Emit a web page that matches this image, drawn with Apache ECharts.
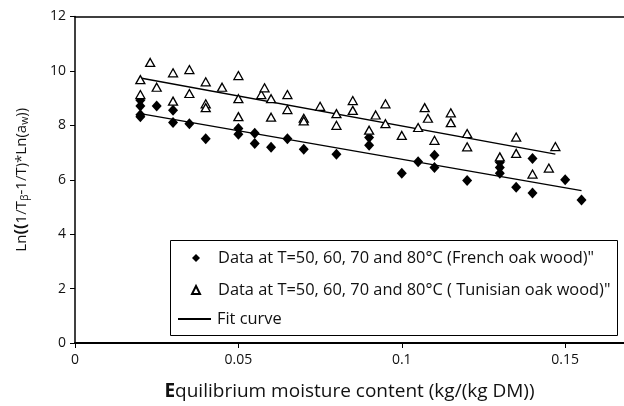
<!DOCTYPE html>
<html>
<head>
<meta charset="utf-8">
<script src="https://cdn.jsdelivr.net/npm/echarts@6/dist/echarts.min.js"></script>
<style>
  html, body { margin: 0; background: #fff; }
  #chart { width: 624px; height: 406px; }
</style>
</head>
<body>
<div id="chart"></div>
<script>
// French oak wood (filled diamonds)
const frenchX = [0.02, 0.02, 0.02, 0.02, 0.025, 0.03, 0.03, 0.035, 0.04, 0.05, 0.05, 0.055, 0.055, 0.06, 0.065, 0.07,
    0.08, 0.09, 0.09, 0.1, 0.105, 0.11, 0.11, 0.12, 0.13, 0.13, 0.13, 0.135, 0.14, 0.14, 0.15, 0.155];
const frenchY = [8.92, 8.71, 8.39, 8.32, 8.71, 8.55, 8.10, 8.06, 7.51, 7.88, 7.67, 7.71, 7.33, 7.19, 7.51, 7.12,
    6.94, 7.55, 7.27, 6.24, 6.66, 6.90, 6.45, 5.97, 6.64, 6.45, 6.24, 5.72, 6.78, 5.51, 6.00, 5.26];

// Tunisian oak wood (open triangles)
const tunisianX = [0.02, 0.02, 0.023, 0.025, 0.03, 0.03, 0.035, 0.035, 0.04, 0.04, 0.04, 0.045, 0.05, 0.05, 0.05,
    0.057, 0.058, 0.06, 0.06, 0.065, 0.065, 0.07, 0.07, 0.075, 0.08, 0.08, 0.085, 0.085, 0.09, 0.092, 0.095, 0.095,
    0.1, 0.105, 0.107, 0.108, 0.11, 0.115, 0.115, 0.12, 0.12, 0.13, 0.135, 0.135, 0.14, 0.145, 0.147];
const tunisianY = [9.68, 9.13, 10.31, 9.40, 9.93, 8.89, 10.05, 9.17, 9.60, 8.79, 8.65, 9.40, 9.83, 8.98, 8.32,
    9.13, 9.38, 8.98, 8.30, 9.13, 8.58, 8.26, 8.16, 8.70, 8.43, 8.00, 8.91, 8.55, 7.82, 8.38, 8.79, 8.06,
    7.63, 7.92, 8.65, 8.26, 7.45, 8.46, 8.10, 7.70, 7.21, 6.84, 7.57, 6.97, 6.21, 6.43, 7.22];

// fit curves (end points)
const fitFrenchX = [0.02, 0.155];
const fitFrenchY = [8.43, 5.60];
const fitTunisianX = [0.02, 0.147];
const fitTunisianY = [9.74, 6.94];

const xTicks = [0, 0.05, 0.1, 0.15];
const frenchName = 'Data at T=50, 60, 70 and 80°C (French oak wood)"';
const tunisianName = 'Data at T=50, 60, 70 and 80°C ( Tunisian oak wood)"';
const fitName = 'Fit curve';

const font = 'Open Sans';
const zip = (xs, ys) => xs.map((x, i) => [x, ys[i]]);
const legendText = { fontFamily: font, fontSize: 16.4, lineHeight: 18, color: '#111' };

const chart = echarts.init(document.getElementById('chart'));
chart.setOption({
    animation: false,
    grid: { left: 75, right: 0, top: 16.5, bottom: 61 },
    // legend frame
    graphic: [{
        type: 'rect',
        left: 170,
        top: 240,
        z: 3,
        shape: { width: 447, height: 95 },
        style: { fill: '#fff', stroke: '#000', lineWidth: 1 }
    }],
    legend: [
        {
            orient: 'vertical',
            left: 191,
            top: 249,
            padding: 0,
            itemWidth: 8,
            itemHeight: 8,
            itemGap: 14,
            selectedMode: false,
            textStyle: Object.assign({ padding: [0, 0, 0, 13] }, legendText),
            data: [frenchName, tunisianName]
        },
        {
            orient: 'vertical',
            left: 177,
            top: 310,
            padding: 0,
            itemWidth: 33,
            itemHeight: 8,
            selectedMode: false,
            textStyle: Object.assign({ padding: [0, 0, 0, 1] }, legendText),
            data: [{ name: fitName, itemStyle: { color: 'rgba(0,0,0,0)', borderWidth: 0 } }]
        }
    ],
    xAxis: [
        {
            type: 'value',
            min: 0,
            max: 0.168,
            interval: 0.05,
            axisLine: { onZero: false, lineStyle: { color: '#000', width: 2 } },
            axisTick: { customValues: xTicks, length: 5, lineStyle: { color: '#000' } },
            axisLabel: { customValues: xTicks, margin: 10, fontFamily: font, fontSize: 14, color: '#111' },
            splitLine: { show: false },
            name: '{b|E}{n|quilibrium moisture content (kg/(kg DM))}',
            nameLocation: 'middle',
            nameGap: 39,
            nameTextStyle: {
                rich: {
                    b: { fontFamily: font, fontSize: 19, fontWeight: 'bold', color: '#111' },
                    n: { fontFamily: font, fontSize: 19, color: '#111' }
                }
            }
        },
        {
            type: 'value',
            position: 'top',
            min: 0,
            max: 0.168,
            axisLine: { show: true, onZero: false, lineStyle: { color: '#000', width: 1.5 } },
            axisTick: { show: false },
            axisLabel: { show: false },
            splitLine: { show: false }
        }
    ],
    yAxis: {
        type: 'value',
        min: 0,
        max: 12,
        interval: 2,
        axisLine: { show: true, onZero: false, lineStyle: { color: '#000', width: 1.5 } },
        axisTick: { show: true, length: 5, lineStyle: { color: '#000' } },
        axisLabel: { margin: 9, fontFamily: font, fontSize: 14, color: '#111' },
        splitLine: { show: false },
        name: '{n|Ln}{p|((}{n|1/T}{s|β}{n|-1/T)*Ln(a}{s|w}{n|))}',
        nameLocation: 'middle',
        nameGap: 44,
        nameTextStyle: {
            rich: {
                n: { fontFamily: font, fontSize: 15, color: '#111', lineHeight: 19, verticalAlign: 'middle' },
                p: { fontFamily: font, fontSize: 16.5, fontWeight: 'bold', color: '#111', lineHeight: 19, verticalAlign: 'middle' },
                s: { fontFamily: font, fontSize: 10.5, color: '#111', lineHeight: 10, verticalAlign: 'bottom' }
            }
        }
    },
    series: [
        {
            name: fitName,
            type: 'line',
            data: zip(fitTunisianX, fitTunisianY),
            symbol: 'none',
            z: 1,
            itemStyle: { color: '#000' },
            lineStyle: { color: '#000', width: 1.3 }
        },
        {
            name: fitName,
            type: 'line',
            data: zip(fitFrenchX, fitFrenchY),
            symbol: 'none',
            z: 1,
            itemStyle: { color: '#000' },
            lineStyle: { color: '#000', width: 1.3 }
        },
        {
            name: frenchName,
            type: 'scatter',
            data: zip(frenchX, frenchY),
            symbol: 'diamond',
            symbolSize: [10, 11],
            z: 3,
            itemStyle: { color: '#000', opacity: 1 }
        },
        {
            name: tunisianName,
            type: 'scatter',
            data: zip(tunisianX, tunisianY),
            symbol: 'triangle',
            symbolSize: [9, 8],
            z: 3,
            itemStyle: { color: '#fff', borderColor: '#000', borderWidth: 1.3, opacity: 1 }
        }
    ]
});
</script>
</body>
</html>
